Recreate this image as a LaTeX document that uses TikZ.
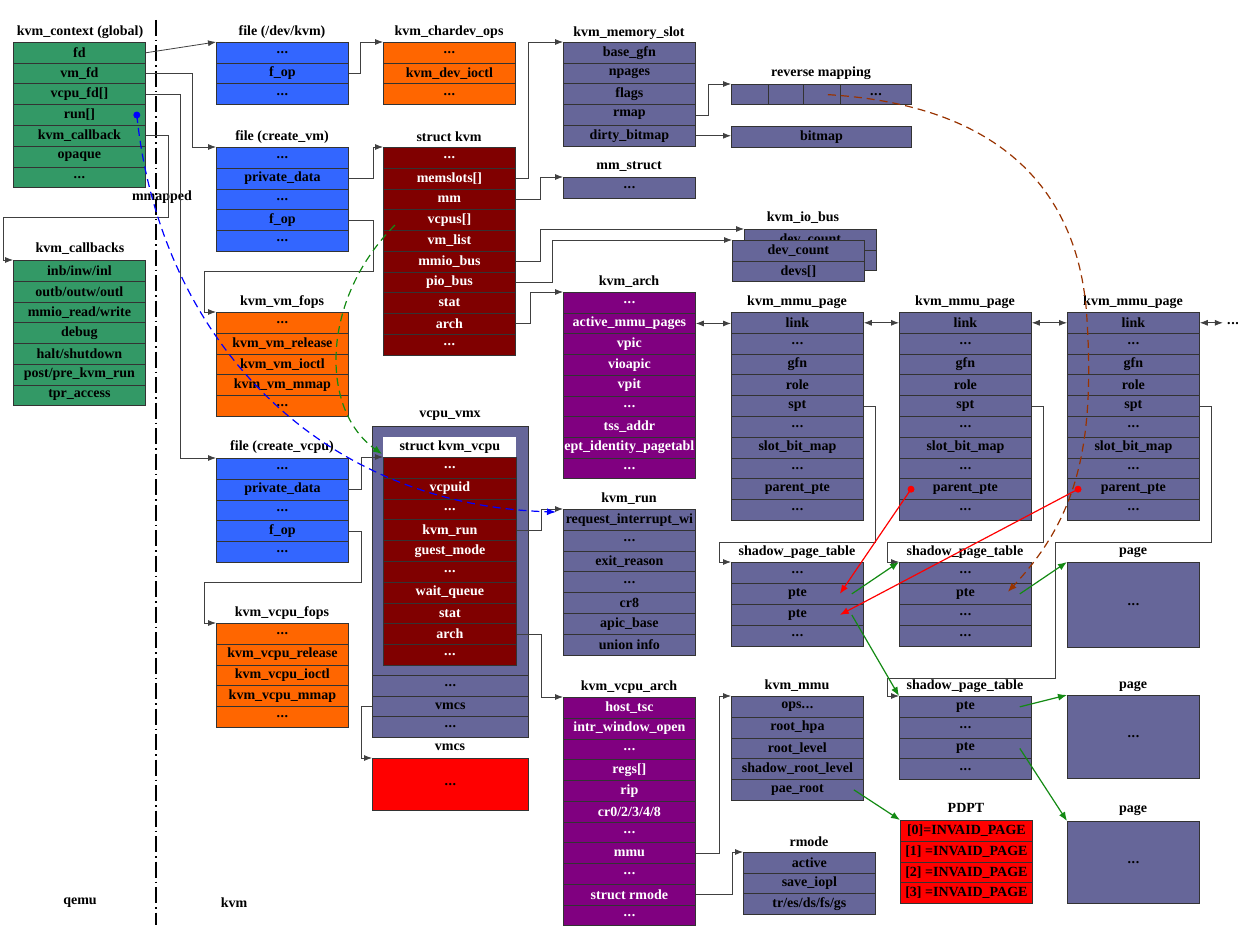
\documentclass[tikz,border=0pt]{standalone}
\usepackage{fontspec}
\setmainfont{Liberation Serif}
\usetikzlibrary{arrows.meta}
\definecolor{cGreen}{HTML}{339966}
\definecolor{cBlue}{HTML}{3366FF}
\definecolor{cOrange}{HTML}{FF6600}
\definecolor{cDkRed}{HTML}{800000}
\definecolor{cPurple}{HTML}{800080}
\definecolor{cSlate}{HTML}{666699}
\definecolor{cRed}{HTML}{FF0000}
\definecolor{cBrown}{HTML}{993300}
\definecolor{cLine}{HTML}{404040}
\definecolor{cArrG}{HTML}{138A13}
\newcommand\dts{.\kern0.6pt.\kern0.6pt.}
\newcommand\mkstruct[7]{%
  \foreach \itm [count=\rr] in {#7}{%
    \node[cellbox,#6,minimum width=#4,minimum height=#5] (#1-\rr) at (#2,{#3+(\rr-1)*(#5)}) {\itm};
  }%
}
\begin{document}
\begin{tikzpicture}[x=1pt,y=-1pt,
  cellbox/.style={draw=black!80, line width=0.8pt, inner sep=0pt, anchor=north west, font=\bfseries\fontsize{14}{16}\selectfont},
  ttl/.style={inner sep=1pt, font=\bfseries\fontsize{14}{16}\selectfont},
  fGreen/.style={fill=cGreen}, fBlue/.style={fill=cBlue}, fOrange/.style={fill=cOrange},
  fDkRed/.style={fill=cDkRed, text=white}, fPurple/.style={fill=cPurple, text=white},
  fSlate/.style={fill=cSlate}, fRed/.style={fill=cRed},
  conn/.style={draw=cLine, line width=0.8pt, -{Latex[length=8pt,width=6pt]}},
  dconn/.style={draw=cLine, line width=0.8pt, {Latex[length=8pt,width=6pt]}-{Latex[length=8pt,width=6pt]}},
  gconn/.style={draw=cArrG, line width=1.2pt, -{Latex[length=9pt,width=7pt]}},
  rconn/.style={draw=red, line width=1.2pt, -{Latex[length=9pt,width=7pt]}},
  dashy/.style={line width=1.2pt, dash pattern=on 8pt off 5pt, -{Latex[length=9pt,width=7pt]}},
]
\fill[white] (0,0) rectangle (1238,939);
\useasboundingbox (0,0) rectangle (1238,939);

% ---------------- qemu side
\node[ttl] (ctxT) at (80,32) {kvm\_context (global)};
\mkstruct{ctx}{13}{42}{132}{20.75}{fGreen}{fd,vm\_fd,vcpu\_fd[],run[],kvm\_callback,opaque,\dts}
\node[ttl] (cbT) at (80,249) {kvm\_callbacks};
\mkstruct{cb}{13}{260}{132}{20.75}{fGreen}{{inb/inw/inl},{outb/outw/outl},{mmio\_read/write},debug,{halt/shutdown},{post/pre\_kvm\_run},tpr\_access}
\node[ttl] (mmT) at (162,197) {mmapped};
\node[ttl] (qemuT) at (80,903) {qemu};
\node[ttl] (kvmT) at (234,903) {kvm};
\draw[line width=1.2pt, dash pattern=on 16pt off 4pt on 1.5pt off 4pt] (156,20) -- (156,925);

% ---------------- files and ops
\node[ttl] at (282,32) {file (/dev/kvm)};
\mkstruct{fa}{216}{42}{132}{20.75}{fBlue}{\dts,f\_op,\dts}
\node[ttl] at (449,32) {kvm\_chardev\_ops};
\mkstruct{cd}{383}{42}{132}{20.75}{fOrange}{\dts,kvm\_dev\_ioctl,\dts}
\node[ttl] at (282,137) {file (create\_vm)};
\mkstruct{fb}{216}{147}{132}{20.75}{fBlue}{\dts,private\_data,\dts,f\_op,\dts}
\node[ttl] at (449,137) {struct kvm};
\mkstruct{kvm}{383}{147}{132}{20.75}{fDkRed}{\dts,memslots[],mm,vcpus[],vm\_list,mmio\_bus,pio\_bus,stat,arch,\dts}
\node[ttl] at (282,302) {kvm\_vm\_fops};
\mkstruct{vmf}{216}{312}{132}{20.75}{fOrange}{\dts,kvm\_vm\_release,kvm\_vm\_ioctl,kvm\_vm\_mmap,\dts}
\node[ttl] at (282,447) {file (create\_vcpu)};
\mkstruct{fc}{216}{458}{132}{20.75}{fBlue}{\dts,private\_data,\dts,f\_op,\dts}
\node[ttl] at (282,613) {kvm\_vcpu\_fops};
\mkstruct{vcf}{216}{623}{132}{20.75}{fOrange}{\dts,kvm\_vcpu\_release,kvm\_vcpu\_ioctl,kvm\_vcpu\_mmap,\dts}

% ---------------- vcpu_vmx
\node[ttl] at (450,416) {vcpu\_vmx};
\node[cellbox,fSlate,minimum width=156,minimum height=311] (vmx) at (372,426) {};
\node[cellbox,fill=white,draw=none,minimum width=133,minimum height=20] (vh) at (383,437) {struct kvm\_vcpu};
\mkstruct{vc}{383}{457}{133}{20.8}{fDkRed}{\dts,vcpuid,\dts,kvm\_run,guest\_mode,\dts,wait\_queue,stat,arch,\dts}
\mkstruct{vx}{372}{675}{156}{20.6}{fSlate}{\dts,vmcs,\dts}
\node[ttl] at (450,747) {vmcs};
\node[cellbox,fRed,minimum width=156,minimum height=52] (vmcsb) at (372,758) {\dts};

% ---------------- memory
\node[ttl] at (629,33) {kvm\_memory\_slot};
\mkstruct{ms}{563}{42}{132}{20.75}{fSlate}{base\_gfn,npages,flags,rmap,dirty\_bitmap}
\node[ttl] at (629,167) {mm\_struct};
\mkstruct{mm}{563}{177}{132}{20.75}{fSlate}{\dts}
\node[ttl] at (821,73) {reverse mapping};
\node[cellbox,fSlate,minimum width=37,minimum height=20.5] (rev-1) at (731,84) {};
\node[cellbox,fSlate,minimum width=35,minimum height=20.5] (rev-2) at (768,84) {};
\node[cellbox,fSlate,minimum width=37,minimum height=20.5] (rev-3) at (803,84) {};
\node[cellbox,fSlate,minimum width=71,minimum height=20.5] (rev-4) at (840,84) {\dts};
\node[cellbox,fSlate,minimum width=180,minimum height=20.5] (bm) at (731,126) {bitmap};

% ---------------- io bus
\node[ttl] at (803,218) {kvm\_io\_bus};
\mkstruct{iob}{744}{229}{132}{20.5}{fSlate}{dev\_count,devs[]}
\mkstruct{io}{732}{240}{132}{20.5}{fSlate}{dev\_count,devs[]}

% ---------------- kvm_arch
\node[ttl] at (629,282) {kvm\_arch};
\mkstruct{ka}{563}{292}{132}{20.7}{fPurple}{\dts,active\_mmu\_pages,vpic,vioapic,vpit,\dts,tss\_addr,ept\_identity\_pagetabl,\dts}

% ---------------- mmu pages
\node[ttl] at (797,302) {kvm\_mmu\_page};
\mkstruct{pa}{731}{312}{132}{20.8}{fSlate}{link,\dts,gfn,role,spt,\dts,slot\_bit\_map,\dts,parent\_pte,\dts}
\node[ttl] at (965,302) {kvm\_mmu\_page};
\mkstruct{pb}{899}{312}{132}{20.8}{fSlate}{link,\dts,gfn,role,spt,\dts,slot\_bit\_map,\dts,parent\_pte,\dts}
\node[ttl] at (1133,302) {kvm\_mmu\_page};
\mkstruct{pc}{1067}{312}{132}{20.8}{fSlate}{link,\dts,gfn,role,spt,\dts,slot\_bit\_map,\dts,parent\_pte,\dts}
\node[ttl,anchor=west] (more) at (1226,324) {\dts};

% ---------------- kvm_run, kvm_vcpu_arch
\node[ttl] at (629,499) {kvm\_run};
\mkstruct{kr}{563}{509}{132}{20.8}{fSlate}{request\_interrupt\_wi,\dts,exit\_reason,\dts,cr8,apic\_base,union info}
\node[ttl] at (629,687) {kvm\_vcpu\_arch};
\mkstruct{va}{563}{697}{132}{20.75}{fPurple}{host\_tsc,intr\_window\_open,\dts,regs[],rip,{cr0/2/3/4/8},\dts,mmu,\dts,struct rmode,\dts}

% ---------------- shadow page tables, pages
\node[ttl] at (797,552) {shadow\_page\_table};
\mkstruct{sa}{731}{562}{132}{21}{fSlate}{\dts,pte,pte,\dts}
\node[ttl] at (965,552) {shadow\_page\_table};
\mkstruct{sb}{899}{562}{132}{21}{fSlate}{\dts,pte,\dts,\dts}
\node[ttl] at (965,686) {shadow\_page\_table};
\mkstruct{sc}{899}{696}{132}{20.8}{fSlate}{pte,\dts,pte,\dts}
\node[ttl] at (1133,552) {page};
\node[cellbox,fSlate,minimum width=132,minimum height=85] (pg1) at (1067,562) {\dts};
\node[ttl] at (1133,686) {page};
\node[cellbox,fSlate,minimum width=132,minimum height=83] (pg2) at (1067,695) {\dts};
\node[ttl] at (1133,810) {page};
\node[cellbox,fSlate,minimum width=132,minimum height=82] (pg3) at (1067,821) {\dts};

% ---------------- kvm_mmu, PDPT, rmode
\node[ttl] at (797,686) {kvm\_mmu};
\mkstruct{km}{731}{696}{132}{20.75}{fSlate}{ops\dts,root\_hpa,root\_level,shadow\_root\_level,pae\_root}
\node[ttl] at (966,808) {PDPT};
\mkstruct{pd}{900}{820}{132}{20.75}{fRed}{{[0]=INVAID\_PAGE},{[1] =INVAID\_PAGE},{[2] =INVAID\_PAGE},{[3] =INVAID\_PAGE}}
\node[ttl] at (809,842) {rmode};
\mkstruct{rm}{743}{852}{132}{20.7}{fSlate}{active,save\_iopl,{tr/es/ds/fs/gs}}

% ================= connectors
\draw[conn] (ctx-1.east) -- (fa-1.north west);
\draw[conn] (ctx-2.east) -- ++(47,0) |- (fb-1.north west);
\draw[conn] (ctx-3.east) -- ++(35,0) |- (fc-1.north west);
\draw[conn] (ctx-5.east) -- ++(23,0) -- ++(0,82) -| ([xshift=-10pt]cb-1.north west) -- (cb-1.north west);
\draw[conn] (fa-2.east) -- ++(12,0) |- (cd-1.north west);
\draw[conn] (fb-2.east) -- ++(25,0) |- (kvm-1.north west);
\draw[conn] (fb-4.east) -- ++(25,0) -- ++(0,51) -| ([xshift=-12pt]vmf-1.north west) -- (vmf-1.north west);
\draw[conn] (fc-2.east) -- ++(13,0) |- (vc-1.north west);
\draw[conn] (fc-4.east) -- ++(13,0) -- ++(0,51) -| ([xshift=-12pt]vcf-1.north west) -- (vcf-1.north west);
\draw[conn] (kvm-2.east) -- ++(13,0) |- (ms-1.north west);
\draw[conn] (kvm-3.east) -- ++(25,0) |- (mm-1.north west);
\draw[conn] (kvm-6.east) -- ++(25,0) |- (iob-1.north west);
\draw[conn] (kvm-7.east) -- ++(37,0) |- (io-1.north west);
\draw[conn] (kvm-9.east) -- ++(15,0) |- (ka-1.north west);
\draw[conn] (ms-4.east) -- ++(13,0) |- (rev-1.north west);
\draw[conn] (ms-5.east) -- (ms-5.east -| bm.west);
\draw[dconn] (ka-2.east) -- (ka-2.east -| pa-1.west);
\draw[dconn] (pa-1.east) -- (pb-1.west);
\draw[dconn] (pb-1.east) -- (pc-1.west);
\draw[dconn] (pc-1.east) -- ++(23,0);
\draw[conn] (pa-5.east) -- ++(12,0) -- ++(0,136) -| ([xshift=-12pt]sa-1.north west) -- (sa-1.north west);
\draw[conn] (pb-5.east) -- ++(12,0) -- ++(0,136) -| ([xshift=-12pt]sb-1.north west) -- (sb-1.north west);
\draw[conn] (pc-5.east) -- ++(12,0) -- ++(0,136) -- ++(-156,0) -- ++(0,136) -| ([xshift=-12pt]sc-1.north west) -- (sc-1.north west);
\draw[conn] (vc-4.east) -- ++(25,0) |- (kr-1.north west);
\draw[conn] (vc-9.east) -- ++(25,0) |- (va-1.north west);
\draw[conn] (vx-2.west) -- ++(-11,0) |- (vmcsb.north west);
\draw[conn] (va-8.east) -- ++(24,0) |- (km-1.north west);
\draw[conn] (va-10.east) -- ++(37,0) |- (rm-1.north west);

% green solid arrows
\draw[gconn] ([xshift=-12pt]sa-2.east) -- (sb-1.north west);
\draw[gconn] ([xshift=-12pt]sa-3.east) -- (sc-1.north west);
\draw[gconn] ([xshift=-12pt]sb-2.east) -- (pg1.north west);
\draw[gconn] ([xshift=-12pt]sc-1.east) -- (pg2.north west);
\draw[gconn] ([xshift=-12pt]sc-3.east) -- (pg3.north west);
\draw[gconn] ([xshift=-10pt]km-5.east) -- (pd-1.north west);

% red parent_pte arrows
\coordinate (ppb) at ([xshift=12pt]pb-9.west);
\coordinate (ppc) at ([xshift=11pt]pc-9.west);
\draw[rconn] (ppb) -- ([xshift=-24pt]sa-2.east);
\draw[rconn] (ppc) -- ([xshift=-24pt]sa-3.east);
\fill[red] (ppb) circle (3.5pt);
\fill[red] (ppc) circle (3.5pt);

% dashed curves
\coordinate (bstart) at ([xshift=-9pt]ctx-4.east);
\draw[blue, dashy] (bstart) .. controls (160,340) and (320,505) .. ([shift={(-7,3)}]kr-1.north west);
\fill[blue] (bstart) circle (3.5pt);
\draw[cArrG, dashy] ([shift={(12,5)}]kvm-4.west) .. controls (320,300) and (320,410) .. ([shift={(-1,-3)}]vc-1.north west);
\coordinate (rmstart) at ([xshift=6pt]rev-3.center);
\draw[cBrown, dashy] (rmstart) .. controls (1000,105) and (1080,190) .. (1087,320) .. controls (1095,450) and (1075,520) .. ([shift={(-24,-2)}]sb-2.east);
\end{tikzpicture}
\end{document}
